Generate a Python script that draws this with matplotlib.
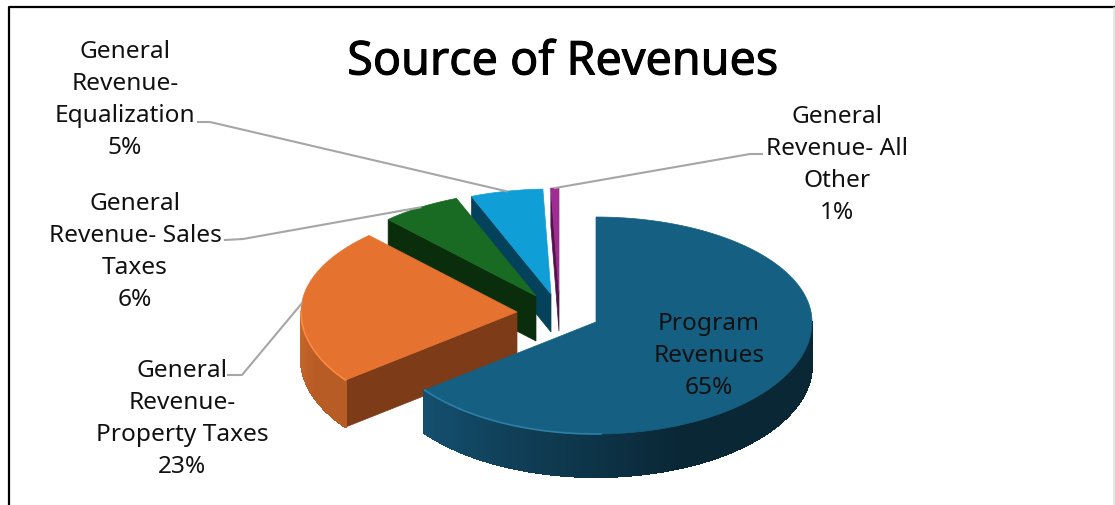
import matplotlib
matplotlib.use("Agg")
import matplotlib.patheffects as pe
import matplotlib.pyplot as plt
import numpy as np
from matplotlib.colors import to_rgb
from matplotlib.patches import Polygon

plt.rcParams["font.family"] = ["Noto Sans", "DejaVu Sans"]

#====================DATA====================

categories = [
    "Program\nRevenues",
    "General\nRevenue-\nProperty Taxes",
    "General\nRevenue- Sales\nTaxes",
    "General\nRevenue-\nEqualization",
    "General\nRevenue- All\nOther",
]
shares = [64.6, 23.4, 6.0, 5.4, 0.6]
title = "Source of Revenues"

#====================STYLE====================

top_colors = ["#156082", "#E6722F", "#196B24", "#0F9ED5", "#A02B93"]
face_colors = ["#0B3345", "#7D3B18", "#0A2E0C", "#04425C", "#4E1548"]
rim_light = ["#14506F", "#C8662A", "#0F4016", "#0A5A7C", "#6B1D62"]
rim_dark = ["#0A2736", "#B85C26", "#0F4016", "#0A5A7C", "#6B1D62"]
edge_colors = ["#2D7FA6", "#F88A45", "#196B24", "#0F9ED5", "#A02B93"]

# apex of each slice on the canvas, the exploded ones move away from the main one
apex_x = [596, 517, 536, 551, 559]
apex_y = [323, 313, 297, 295, 294]
rx, ry_back, ry_front = 216, 105, 112
depth = [43, 47, 45, 38, 38]

label_xy = [(709, 356), (182, 419), (135, 252), (125, 100), (837, 165)]
# elbow start and bend of the leader lines, None = no leader
leader = [None, ((228, 376), (242, 376)), ((225, 241), (243, 240)),
          ((198, 123), (210, 123)), ((762, 155), (750, 155))]


def rim_point(i, angle, drop=0):
    # angle is clockwise from 12 o'clock, in degrees
    a = np.radians(angle)
    c = np.cos(a)
    ry = ry_back if c > 0 else ry_front
    return apex_x[i] + rx * np.sin(a), apex_y[i] - ry * c + drop


def draw_slice(ax, i, start, end):
    ang = np.linspace(start, end, 160)
    pts = np.array([rim_point(i, t) for t in ang])
    apex = (apex_x[i], apex_y[i])
    d = depth[i]

    # cut face on the clockwise start edge
    p = rim_point(i, start)
    if i != 0:
        ax.add_patch(Polygon([apex, p, (p[0], p[1] + d), (apex[0], apex[1] + d)],
                             fc=face_colors[i], ec=face_colors[i], lw=0.5, zorder=i * -3 + 20))

    # outer wall, only the part turned to the viewer
    a0, a1 = max(start, 90), min(end, 270)
    if a1 > a0:
        steps = np.linspace(a0, a1, 120)
        light, dark = np.array(to_rgb(rim_light[i])), np.array(to_rgb(rim_dark[i]))
        for t0, t1 in zip(steps[:-1], steps[1:]):
            f = np.clip((a1 - t0) / (a1 - a0) * 1.9, 0, 1)
            col = light + (dark - light) * f
            q0, q1 = rim_point(i, t0), rim_point(i, t1)
            ax.add_patch(Polygon([q0, q1, (q1[0], q1[1] + d), (q0[0], q0[1] + d)],
                                 fc=col, ec=col, lw=0.8, antialiased=False, zorder=i * -3 + 20))
        # thin light bevel on the left part of the front edge
        lit = steps[steps > 178]
        edge = np.array([rim_point(i, t) for t in lit])
        ax.plot(edge[:, 0], edge[:, 1], color=edge_colors[i], lw=1.2, zorder=i * -3 + 22,
                solid_capstyle="round")

    ax.add_patch(Polygon(np.vstack([apex, pts]), fc=top_colors[i], ec=top_colors[i], lw=0.5,
                         zorder=i * -3 + 21))


#====================FIGURE====================

fig = plt.figure(figsize=(11.15, 5.06), dpi=100)
ax = fig.add_axes([0, 0, 1, 1])
ax.set_xlim(0, 1115)
ax.set_ylim(506, 0)
ax.axis("off")

# outer frame of the chart, the right edge is only a faint grey line
ax.plot([9, 9, 1115], [506, 8, 8], color="black", lw=1.6, zorder=1)
ax.plot([1114, 1114], [9, 506], color="#E4E4E4", lw=1.2, zorder=1)

edges = np.concatenate([[0], np.cumsum(shares)]) / sum(shares) * 360
for i in range(len(shares)):
    draw_slice(ax, i, edges[i], edges[i + 1])

for i, (cat, share) in enumerate(zip(categories, shares)):
    ax.text(label_xy[i][0], label_xy[i][1], f"{cat}\n{share:.0f}%", ha="center", va="center",
            fontsize=17.6, linespacing=1.46, color="#111111", zorder=40)
    if leader[i] is not None:
        mid = (edges[i] + edges[i + 1]) / 2
        tip = rim_point(i, mid)
        line = np.array([leader[i][0], leader[i][1], tip])
        ax.plot(line[:, 0], line[:, 1], color="#A6A6A6", lw=1.5, zorder=30)

ax.text(563, 63, title, ha="center", va="center", fontsize=33.6, color="black", zorder=40,
        path_effects=[pe.withStroke(linewidth=0.7, foreground="black")])

fig.savefig("out.png", dpi=100)
